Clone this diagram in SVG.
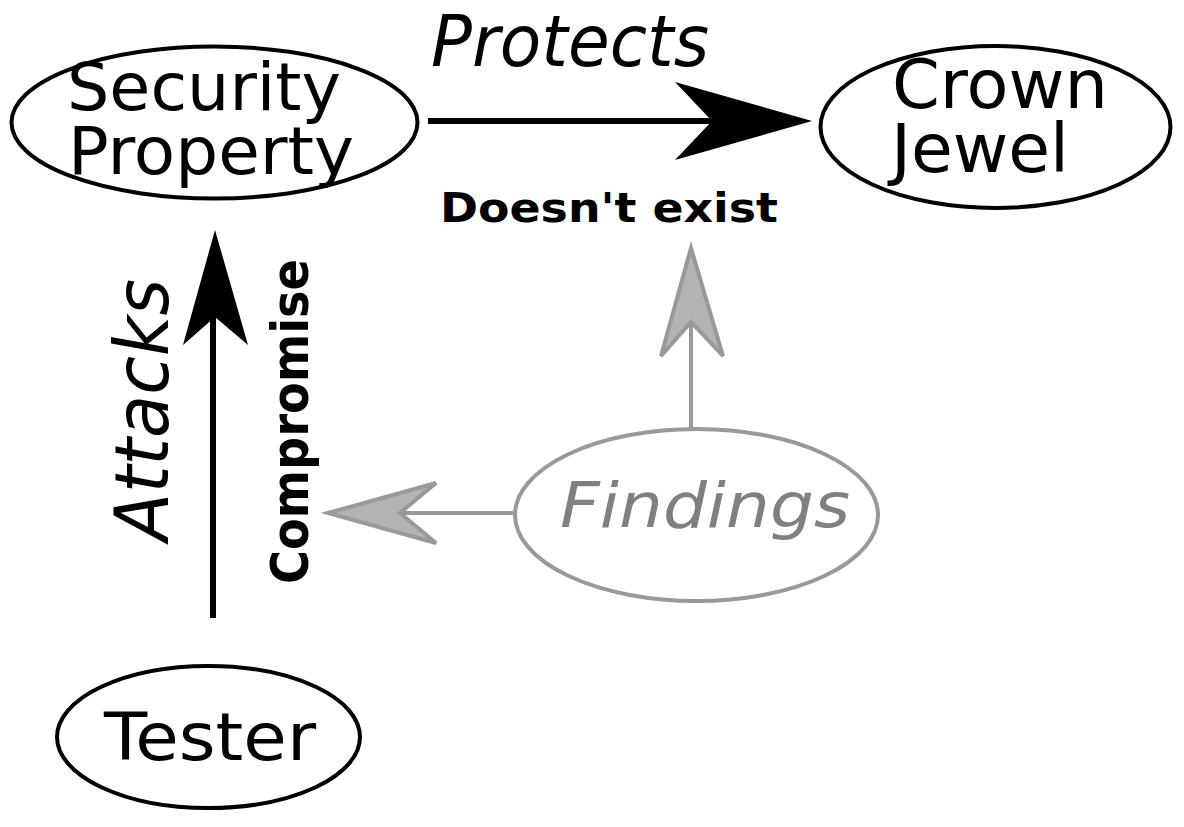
<svg xmlns="http://www.w3.org/2000/svg" width="1184" height="827" viewBox="0 0 1184 827">
<style>
.node{fill:#fff;stroke:#000;stroke-width:4}
.gnode{fill:#fff;stroke:#999;stroke-width:4}
.t{font-family:"DejaVu Sans",sans-serif;fill:#000}
.b{font-weight:bold}
.i{font-style:italic}
.line{stroke:#000;stroke-width:6;fill:none}
.gline{stroke:#999;stroke-width:4;fill:none}
.head{fill:#000;stroke:none}
.ghead{fill:#b3b3b3;stroke:#999;stroke-width:4;stroke-linejoin:miter}
</style>
<rect width="1184" height="827" fill="#fff"/>
<g id="connectors">
<path class="line" d="M428 121 H715"/>
<polygon class="head" points="812,121 675,82 712,121 675,160"/>
<path class="line" d="M213 618 V312"/>
<polygon class="head" points="215,230 183,345 215,317 248,345"/>
<path class="gline" d="M691 428 V322"/>
<polygon class="ghead" points="691,248 661,356 691,322 723,356"/>
<path class="gline" d="M513 513 H400"/>
<polygon class="ghead" points="328,513 436,483 400,513 436,543"/>
<text class="t i" font-size="72" x="431" y="66" textLength="278" lengthAdjust="spacingAndGlyphs">Protects</text>
<text class="t b" font-size="41" x="440" y="222" textLength="338" lengthAdjust="spacingAndGlyphs">Doesn't exist</text>
<text class="t i" font-size="75" transform="translate(168,541) rotate(-90)" textLength="262" lengthAdjust="spacingAndGlyphs">Attacks</text>
<text class="t b" font-size="51" transform="translate(308,584) rotate(-90)" textLength="325" lengthAdjust="spacingAndGlyphs">Compromise</text>
</g>
<g id="security-property">
<ellipse class="node" cx="214.5" cy="122.5" rx="203" ry="76"/>
<text class="t" font-size="66" x="67" y="110" textLength="274" lengthAdjust="spacingAndGlyphs">Security</text>
<text class="t" font-size="66" x="68" y="174" textLength="286" lengthAdjust="spacingAndGlyphs">Property</text>
</g>
<g id="crown-jewel">
<ellipse class="node" cx="995.5" cy="127" rx="175" ry="81"/>
<text class="t" font-size="67" x="892" y="108" textLength="216" lengthAdjust="spacingAndGlyphs">Crown</text>
<text class="t" font-size="67" x="891" y="172" textLength="178" lengthAdjust="spacingAndGlyphs">Jewel</text>
</g>
<g id="findings">
<ellipse class="gnode" cx="696.5" cy="515" rx="181.5" ry="86"/>
<text class="t i" font-size="62" x="560" y="527" style="fill:#808080" textLength="290" lengthAdjust="spacingAndGlyphs">Findings</text>
</g>
<g id="tester">
<ellipse class="node" cx="208.5" cy="737" rx="151.5" ry="71"/>
<text class="t" font-size="66" x="104" y="760" textLength="212" lengthAdjust="spacingAndGlyphs">Tester</text>
</g>
</svg>
